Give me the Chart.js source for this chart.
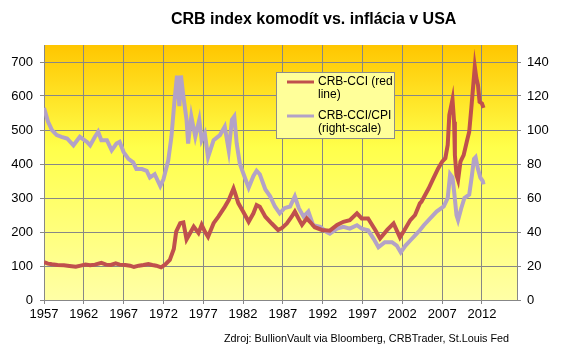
<!DOCTYPE html>
<html>
<head>
<meta charset="utf-8">
<script src="https://cdn.jsdelivr.net/npm/chart.js@4.4.0/dist/chart.umd.min.js"></script>
<style>
  body { margin: 0; background: #fff; }
  canvas { display: block; }
</style>
</head>
<body>
<canvas id="crbChart" width="566" height="349"></canvas>
<script>
// Dados
const titulo = 'CRB index komodít vs. inflácia v USA';
const zdroj = 'Zdroj: BullionVault via Bloomberg, CRBTrader, St.Louis Fed';
const rokyTicks = [1957, 1962, 1967, 1972, 1977, 1982, 1987, 1992, 1997, 2002, 2007, 2012];
const lavaTicks = [0, 100, 200, 300, 400, 500, 600, 700];
const pravaTicks = [0, 20, 40, 60, 80, 100, 120, 140];

const crbRoky = [
  1957.0, 1957.5, 1958.0, 1958.7, 1959.5, 1960.2, 1961.0, 1961.6, 1962.2, 1962.8,
  1963.4, 1964.2, 1964.8, 1965.4, 1966.0, 1966.5, 1967.2, 1967.8, 1968.3, 1968.9,
  1969.5, 1970.1, 1970.6, 1971.1, 1971.7, 1972.2, 1972.8, 1973.3, 1973.6, 1974.1,
  1974.5, 1974.9, 1975.3, 1975.8, 1976.4, 1976.8, 1977.2, 1977.6, 1978.3, 1978.9,
  1979.7, 1980.2, 1980.8, 1981.0, 1981.4, 1982.0, 1982.7, 1983.3, 1983.7, 1984.1,
  1984.8, 1985.6, 1986.4, 1986.9, 1987.5, 1988.1, 1988.5, 1989.0, 1989.4, 1990.0,
  1990.4, 1991.0, 1991.9, 1992.9, 1993.8, 1994.6, 1995.4, 1996.3, 1996.9, 1997.7,
  1998.6, 1999.2, 2000.1, 2000.9, 2001.7, 2002.4, 2003.0, 2003.6, 2004.2, 2004.4,
  2005.3, 2005.9, 2006.5, 2007.0, 2007.4, 2007.7, 2007.9, 2008.3, 2008.5, 2008.6,
  2008.8, 2009.0, 2009.3, 2009.7, 2010.1, 2010.4, 2010.7, 2011.1, 2011.3, 2011.5,
  2011.7, 2012.0, 2012.2
];
const crbHodnoty = [
  111, 107, 105, 103, 102, 100, 98, 101, 104, 102,
  104, 109, 104, 103, 108, 104, 103, 101, 97, 101,
  103, 106, 103, 101, 96, 104, 118, 150, 201, 226,
  228, 178, 195, 216, 197, 221, 201, 186, 226, 245,
  274, 294, 328, 314, 285, 260, 230, 255, 279, 274,
  245, 225, 206, 212, 225, 245, 260, 238, 221, 240,
  230, 214, 206, 204, 221, 230, 235, 255, 240, 240,
  206, 181, 206, 225, 184, 211, 235, 250, 284, 289,
  328, 358, 387, 407, 417, 456, 544, 590, 524, 426,
  368, 353, 407, 426, 466, 495, 574, 686, 652, 632,
  583, 578, 565
];

const pomerRoky = [
  1957.0, 1957.5, 1958.0, 1958.6, 1959.2, 1959.9, 1960.7, 1961.5, 1962.4, 1962.8,
  1963.4, 1963.8, 1964.2, 1964.9, 1965.5, 1966.1, 1966.5, 1967.0, 1967.6, 1968.2,
  1968.6, 1969.3, 1969.9, 1970.3, 1970.9, 1971.6, 1972.0, 1972.6, 1973.0, 1973.4,
  1973.7, 1974.0, 1974.2, 1974.5, 1974.9, 1975.1, 1975.5, 1976.0, 1976.5, 1976.8,
  1977.2, 1977.6, 1978.3, 1979.1, 1979.7, 1980.2, 1980.6, 1980.9, 1981.2, 1981.6,
  1982.3, 1982.7, 1983.3, 1983.7, 1984.1, 1984.8, 1985.4, 1986.0, 1986.6, 1987.2,
  1987.9, 1988.5, 1989.0, 1989.6, 1990.2, 1990.8, 1991.7, 1992.5, 1992.9, 1993.8,
  1994.6, 1995.4, 1996.3, 1996.9, 1997.7, 1998.4, 1999.0, 1999.8, 2000.7, 2001.3,
  2001.8, 2002.4, 2003.0, 2003.6, 2004.2, 2004.7, 2005.5, 2006.3, 2007.2, 2007.7,
  2008.0, 2008.3, 2008.5, 2008.8, 2009.0, 2009.4, 2009.8, 2010.4, 2010.7, 2011.0,
  2011.2, 2011.5, 2011.8, 2012.1, 2012.2
];
const pomerHodnoty = [
  113, 105, 100, 97, 96, 95, 91, 96, 93, 91,
  96, 99, 94, 94, 88, 92, 93, 87, 83, 81,
  77, 77, 76, 72, 74, 67, 71, 82, 96, 118,
  132, 114, 132, 120, 106, 92, 108, 96, 106, 94,
  98, 84, 94, 97, 102, 88, 106, 108, 92, 80,
  71, 66, 73, 76, 74, 65, 61, 55, 51, 54,
  55, 61, 54, 49, 52, 44, 43, 40, 39, 42,
  43, 42, 44, 42, 41, 36, 31, 34, 34, 32,
  28, 32, 35, 38, 41, 44, 48, 52, 55, 60,
  74, 72, 64, 50, 47, 54, 60, 62, 72, 83,
  84, 77, 72, 70, 68
];

const pismo = 'Liberation Sans, Arial, sans-serif';
const sivaMriezka = '#878787';

// Pozadie: biele plátno a žltý prechod v ploche grafu
const pozadiePlugin = {
  id: 'pozadie',
  beforeDraw(chart) {
    const { ctx, chartArea: a } = chart;
    ctx.save();
    ctx.fillStyle = '#ffffff';
    ctx.fillRect(0, 0, chart.width, chart.height);
    const g = ctx.createLinearGradient(0, a.top, 0, a.bottom);
    g.addColorStop(0, '#ffc600');
    g.addColorStop(0.4, '#ffff4a');
    g.addColorStop(1, '#ffffa6');
    ctx.fillStyle = g;
    ctx.fillRect(a.left, a.top, a.right - a.left, a.bottom - a.top);
    ctx.restore();
  }
};

// Nadpis, zdroj a legenda
const textyPlugin = {
  id: 'texty',
  afterDraw(chart) {
    const ctx = chart.ctx;
    ctx.save();
    ctx.fillStyle = '#000';
    ctx.textBaseline = 'middle';
    ctx.textAlign = 'left';
    ctx.font = 'bold 16px ' + pismo;
    ctx.fillText(titulo, 171, 20);
    ctx.font = '10.8px ' + pismo;
    ctx.fillText(zdroj, 224, 339);

    // legenda
    ctx.fillStyle = '#ffff99';
    ctx.fillRect(276.5, 72.5, 118, 66);
    ctx.strokeStyle = '#8c8c8c';
    ctx.lineWidth = 1;
    ctx.strokeRect(276.5, 72.5, 118, 66);
    const polozky = [
      { farba: chart.data.datasets[0].borderColor, y: 82, riadky: ['CRB-CCI (red', 'line)'] },
      { farba: chart.data.datasets[1].borderColor, y: 116, riadky: ['CRB-CCI/CPI', '(right-scale)'] }
    ];
    ctx.font = '12px ' + pismo;
    polozky.forEach(p => {
      ctx.strokeStyle = p.farba;
      ctx.lineWidth = 3;
      ctx.beginPath();
      ctx.moveTo(287, p.y);
      ctx.lineTo(314, p.y);
      ctx.stroke();
      ctx.fillStyle = '#000';
      ctx.fillText(p.riadky[0], 318, p.y);
      ctx.fillText(p.riadky[1], 318, p.y + 13);
    });
    ctx.restore();
  }
};

const ctxCrb = document.getElementById('crbChart').getContext('2d');
const crbChart = new Chart(ctxCrb, {
  type: 'line',
  data: {
    datasets: [{
      label: 'CRB-CCI (red line)',
      data: crbRoky.map((r, i) => ({ x: r, y: crbHodnoty[i] })),
      borderColor: '#c0504d',
      borderWidth: 4,
      pointRadius: 0,
      tension: 0,
      yAxisID: 'y'
    }, {
      label: 'CRB-CCI/CPI (right-scale)',
      data: pomerRoky.map((r, i) => ({ x: r, y: pomerHodnoty[i] })),
      borderColor: '#b3a2c7',
      borderWidth: 4,
      pointRadius: 0,
      tension: 0,
      yAxisID: 'y2'
    }]
  },
  options: {
    responsive: false,
    animation: false,
    layout: { padding: { top: 45, left: 0, right: 0, bottom: 0 } },
    plugins: {
      legend: { display: false },
      tooltip: { enabled: false }
    },
    scales: {
      x: {
        type: 'linear',
        min: 1957,
        max: 2016.4,
        afterBuildTicks(scale) { scale.ticks = rokyTicks.map(v => ({ value: v })); },
        afterFit(scale) { scale.height = 49; },
        ticks: {
          autoSkip: false,
          maxRotation: 0,
          padding: 3,
          color: '#000',
          font: { family: pismo, size: 13 },
          callback: v => String(v)
        },
        grid: { color: sivaMriezka, tickLength: 4 },
        border: { color: sivaMriezka }
      },
      y: {
        position: 'left',
        min: 0,
        max: 750,
        afterBuildTicks(scale) { scale.ticks = lavaTicks.map(v => ({ value: v })); },
        afterFit(scale) { scale.width = 44; },
        ticks: {
          padding: 7,
          color: '#000',
          font: { family: pismo, size: 13 }
        },
        grid: { color: sivaMriezka, tickLength: 4 },
        border: { color: sivaMriezka }
      },
      y2: {
        position: 'right',
        min: 0,
        max: 150,
        afterBuildTicks(scale) { scale.ticks = pravaTicks.map(v => ({ value: v })); },
        afterFit(scale) { scale.width = 49; },
        ticks: {
          padding: 6,
          color: '#000',
          font: { family: pismo, size: 13 }
        },
        grid: { drawOnChartArea: false, color: sivaMriezka, tickLength: 4 },
        border: { color: sivaMriezka }
      }
    }
  },
  plugins: [pozadiePlugin, textyPlugin]
});
</script>
</body>
</html>
